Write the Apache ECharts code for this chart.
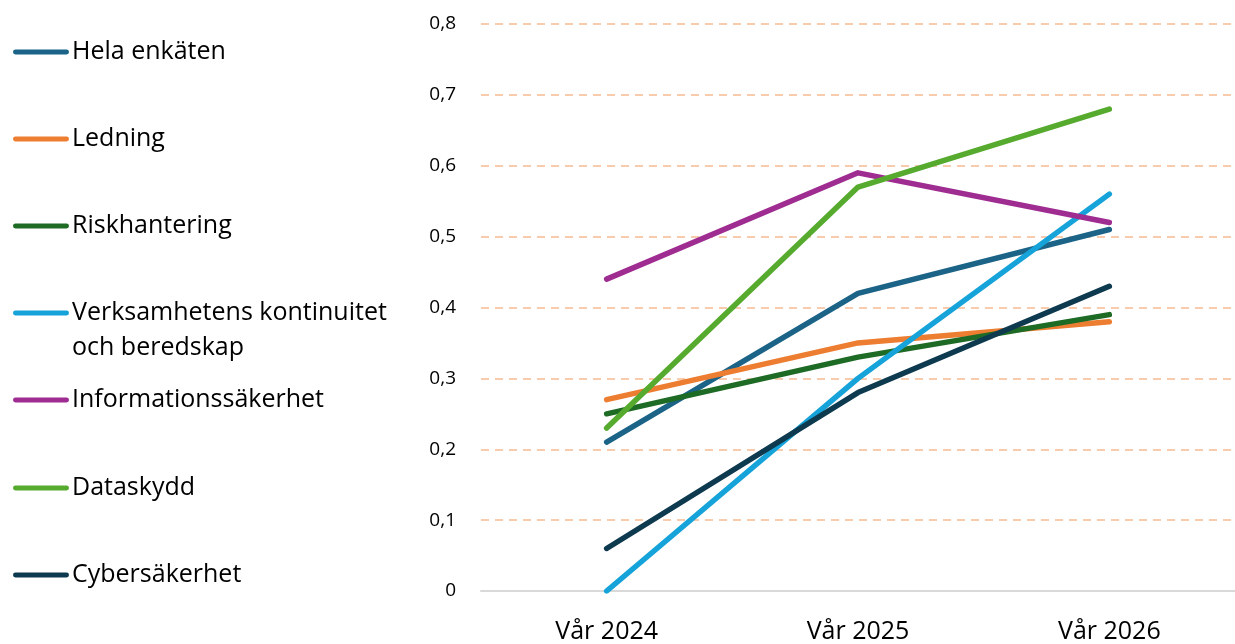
<!DOCTYPE html>
<html><head><meta charset="utf-8">
<script src="https://cdn.jsdelivr.net/npm/echarts@6/dist/echarts.min.js"></script>
<style>html,body{margin:0;padding:0;background:#fff}#c{width:1235px;height:644px}</style>
</head><body><div id="c"></div>
<script>
const categories = ['Vår 2024', 'Vår 2025', 'Vår 2026'];
const helaEnkaten = [0.21, 0.42, 0.51];
const ledning = [0.27, 0.35, 0.38];
const riskhantering = [0.25, 0.33, 0.39];
const verksamhetensKontinuitet = [0, 0.30, 0.56];
const informationssakerhet = [0.44, 0.59, 0.52];
const dataskydd = [0.23, 0.57, 0.68];
const cybersakerhet = [0.06, 0.28, 0.43];
const seriesNames = ['Hela enkäten', 'Ledning', 'Riskhantering', 'Verksamhetens kontinuitet och beredskap', 'Informationssäkerhet', 'Dataskydd', 'Cybersäkerhet'];
const seriesData = [helaEnkaten, ledning, riskhantering, verksamhetensKontinuitet, informationssakerhet, dataskydd, cybersakerhet];
const colors = ['#1B6387', '#ED7D31', '#1E6B26', '#15A3DA', '#9F2C91', '#56AB2F', '#0E3A50'];

const FONT = 'Open Sans';
const legendTops = [52, 139, 226, 313, 400, 488, 575];
const legends = seriesNames.map((n, i) => ({
  data: [n],
  left: 13,
  padding: 0,
  top: legendTops[i] - (i === 3 ? 52.5 : 17.5),
  itemWidth: 56,
  itemHeight: 5,
  itemGap: 0,
  selectedMode: false,
  icon: 'path://M2,0 L54,0 A2.5,2.5 0 0 1 54,5 L2,5 A2.5,2.5 0 0 1 2,0 Z',
  formatter: i === 3 ? '\nVerksamhetens kontinuitet\noch beredskap' : '{name}',
  textStyle: { fontFamily: FONT, fontSize: 25, color: '#000', lineHeight: 35, padding: [0, 0, 0, -2] }
}));

const chart = echarts.init(document.getElementById('c'), null, { renderer: 'canvas' });
chart.setOption({
  animation: false,
  color: colors,
  legend: legends,
  grid: { left: 481, top: 24, width: 759, bottom: 53, containLabel: false },
  xAxis: {
    type: 'category',
    data: categories,
    boundaryGap: true,
    axisLine: { show: true, lineStyle: { color: '#D9D9D9', width: 2 } },
    axisTick: { show: false },
    axisLabel: { fontFamily: FONT, fontSize: 25, color: '#000', margin: 28 }
  },
  yAxis: {
    type: 'value',
    min: 0, max: 0.8, interval: 0.1,
    axisLine: { show: false },
    axisTick: { show: false },
    axisLabel: { fontFamily: FONT, fontSize: 19, color: '#000', margin: 25,
      formatter: v => (Math.round(v * 10) / 10).toString().replace('.', ',') },
    splitLine: { lineStyle: { color: '#F8CBAD', width: 2, type: [8, 6] } }
  },
  series: seriesNames.map((n, i) => ({
    name: n,
    type: 'line',
    data: seriesData[i],
    symbol: 'none',
    lineStyle: { width: 5.5, cap: 'round', join: 'round' },
    z: 2
  }))
});
</script></body></html>
